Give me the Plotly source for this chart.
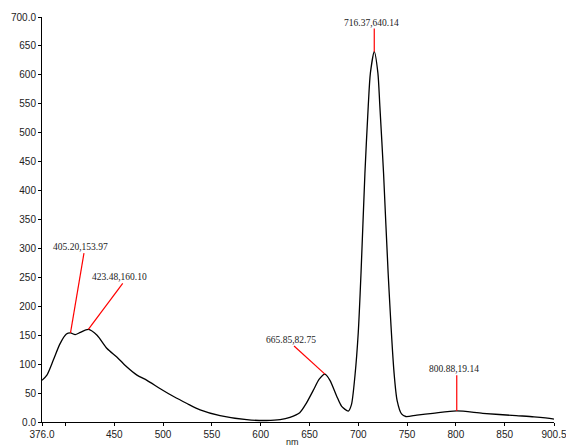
import plotly.graph_objects as go

# Spectrum (wavelength nm, intensity)
wavelength = [376, 381, 387.6, 394.4, 401, 405.2, 410, 415.3, 423.48, 432.4, 442.6, 452.9,
              463, 473.3, 483.5, 497.2, 510.8, 524.5, 538, 558.4, 585.7, 606, 620, 630,
              640, 647, 654, 660, 665.85, 671, 677.8, 683, 689.8, 693, 696.6, 700,
              702.8, 706.8, 710.2, 712.4, 716.37, 720.1, 722.1, 725.9, 730.6, 736.7,
              739.8, 744.3, 748.7, 760, 776.4, 800.88, 827.5, 861.7, 880, 899.2, 900.5]
intensity = [72, 81, 107, 135, 152, 153.97, 151, 155, 160.10, 150, 127, 112,
             95, 81, 72, 57.5, 44, 32, 21, 11, 4, 2.6, 4, 8,
             16, 33, 55, 74, 82.75, 72, 45, 27, 19, 30, 80, 155,
             257, 430, 546, 603, 640.14, 603, 546, 430, 257, 84,
             37, 14, 9.5, 12, 15, 19.14, 15, 11, 9, 5.5, 5]

# Peak labels
peak_x = [405.20, 423.48, 665.85, 716.37, 800.88]
peak_y = [153.97, 160.10, 82.75, 640.14, 19.14]
label_x = [419.0, 458.7, 634.2, 716.37, 800.88]
label_y = [292.0, 239.5, 131.4, 680.0, 80.6]

x_tickvals = [376.0, 400, 450, 500, 550, 600, 650, 700, 750, 800, 850, 900.5]
x_ticktext = ["376.0", "", "450", "500", "550", "600", "650", "700", "750", "800", "850", "900.5"]
y_tickvals = [0, 50, 100, 150, 200, 250, 300, 350, 400, 450, 500, 550, 600, 650, 700]
y_ticktext = ["0.0", "50", "100", "150", "200", "250", "300", "350", "400", "450",
              "500", "550", "600", "650", "700.0"]

fig = go.Figure()
fig.add_trace(go.Scatter(x=wavelength, y=intensity, mode="lines",
                         line=dict(color="black", width=1.3, shape="spline", smoothing=0.7),
                         hoverinfo="skip", showlegend=False))

for px, py, lx, ly in zip(peak_x, peak_y, label_x, label_y):
    fig.add_trace(go.Scatter(x=[px, lx], y=[py, ly], mode="lines",
                             line=dict(color="red", width=1.2),
                             hoverinfo="skip", showlegend=False))
    fig.add_annotation(x=lx, y=ly, text=f"{px:.2f},{py:.2f}", showarrow=False,
                       xanchor="center", yanchor="bottom", xshift=-3, yshift=-1,
                       font=dict(family="Liberation Serif", size=9.5, color="#222"))

fig.add_annotation(x=0.49, y=0, xref="paper", yref="paper", text="nm", showarrow=False,
                   xanchor="center", yanchor="top", yshift=-13,
                   font=dict(family="Liberation Sans", size=9, color="#222"))

axis_common = dict(showgrid=False, zeroline=False, showline=True, linecolor="black",
                   linewidth=1, ticks="outside", ticklen=3, tickcolor="black",
                   ticklabeloverflow="allow", automargin=False,
                   tickfont=dict(family="Liberation Sans", size=10, color="#222"))

fig.update_xaxes(range=[376.0, 900.5], tickmode="array", tickvals=x_tickvals,
                 ticktext=x_ticktext, **axis_common)
fig.update_yaxes(range=[0, 700], tickmode="array", tickvals=y_tickvals,
                 ticktext=y_ticktext, **axis_common)

fig.update_layout(width=566, height=446,
                  margin=dict(l=42, r=12, t=17, b=24, autoexpand=False),
                  plot_bgcolor="white", paper_bgcolor="white", showlegend=False)

fig.write_html("out.html")
